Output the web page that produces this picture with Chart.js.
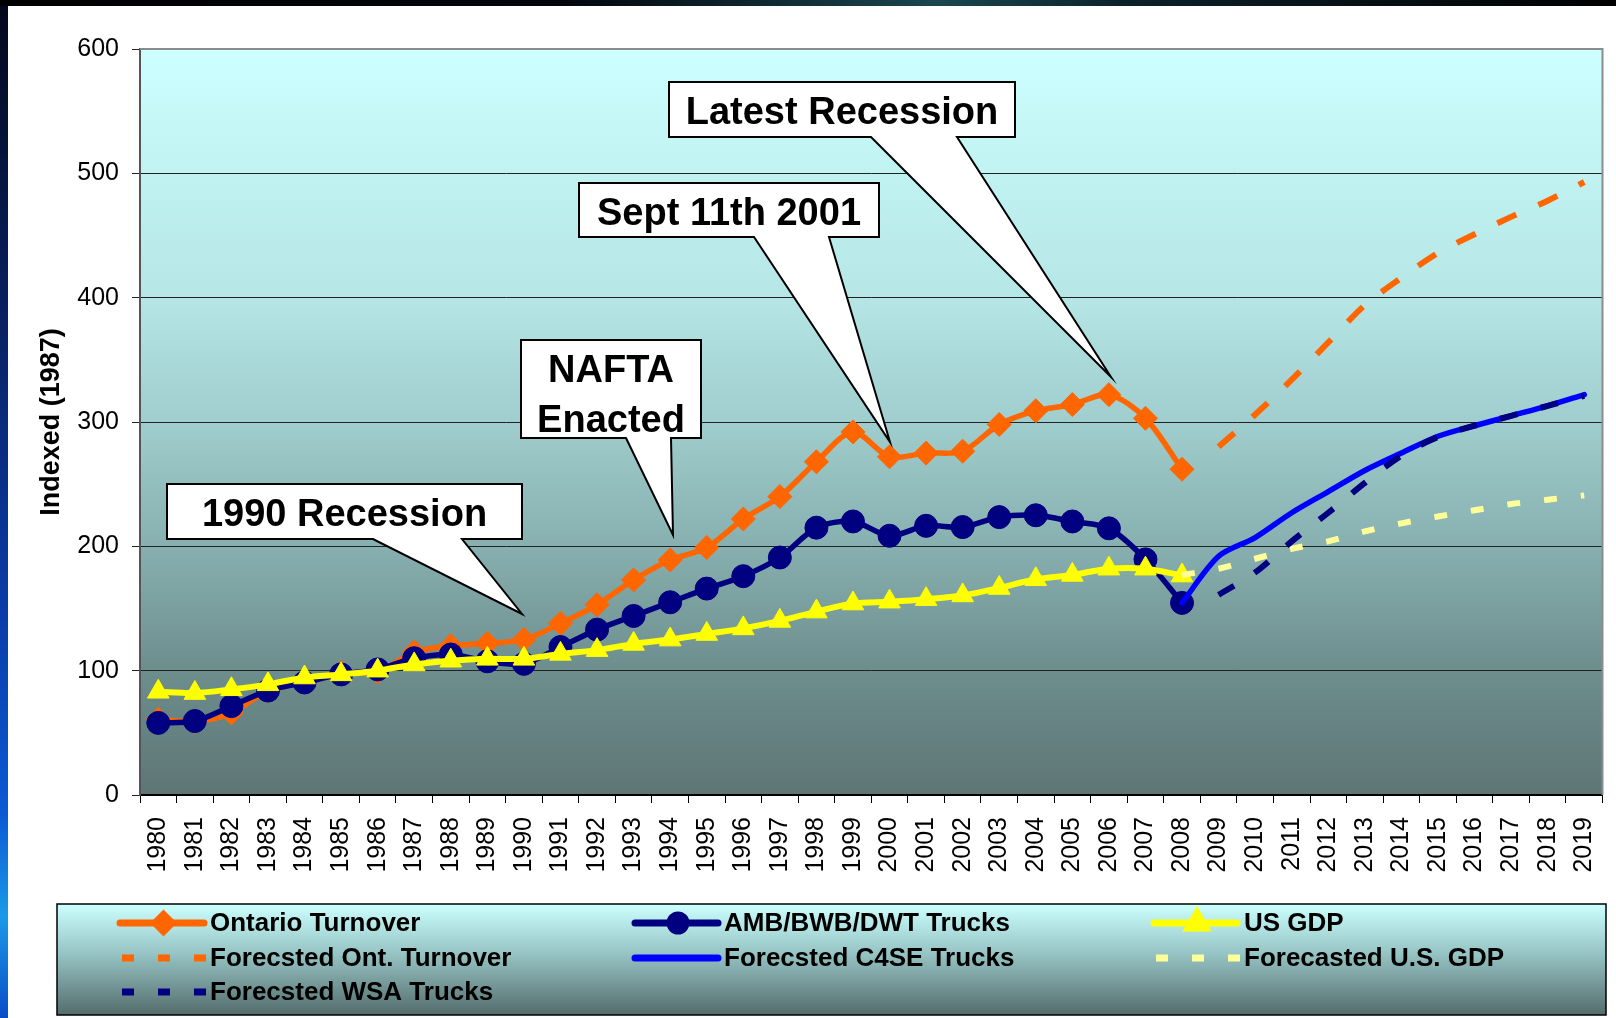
<!DOCTYPE html>
<html>
<head>
<meta charset="utf-8">
<script src="https://cdn.jsdelivr.net/npm/chart.js@4.4.1/dist/chart.umd.min.js"></script>
<style>
html,body{margin:0;padding:0;width:1616px;height:1018px;overflow:hidden;}
body{position:relative;background:#000;}
#leftbar{position:absolute;left:0;top:0;width:8px;height:1018px;background:linear-gradient(to bottom,#03071a 0%,#08205e 30%,#0a3ca8 60%,#0b5ad4 80%,#1a9ae8 90%,#0a4cc8 100%);}
#topbar{position:absolute;left:0;top:0;width:1616px;height:6px;background:linear-gradient(to right,#000 0%,#02060c 35%,#1b4650 58%,#0b2028 70%,#000 100%);}
#paper{position:absolute;left:8px;top:6px;width:1608px;height:1012px;background:#fff;}
#wrap{position:absolute;left:0;top:0;width:1616px;height:1018px;}
</style>
</head>
<body>
<div id="leftbar"></div><div id="topbar"></div><div id="paper"></div>
<div id="wrap"><canvas id="c" width="1616" height="1018"></canvas></div>
<script>
const years = ['1980','1981','1982','1983','1984','1985','1986','1987','1988','1989',
  '1990','1991','1992','1993','1994','1995','1996','1997','1998','1999',
  '2000','2001','2002','2003','2004','2005','2006','2007','2008','2009',
  '2010','2011','2012','2013','2014','2015','2016','2017','2018','2019'];

const ontarioTurnover = [61,59,66,84,92,98.5,99,115,120,122,
  125,138,153,173,189,199,222,240,268,292,
  272,275,276.5,298,309,314,322,303,262,null,
  null,null,null,null,null,null,null,null,null,null];

const ambTrucks = [58,59.5,71.5,84,90.5,97,101,110,113,107.5,
  105.5,119,133,144,155,166,176,191,215,220,
  208.5,216.5,215.5,223.5,225,220,214.5,189.5,154.5,null,
  null,null,null,null,null,null,null,null,null,null];

const usGdp = [83,82,85,89,94.5,97,100,105,108,109.5,
  109.5,113.5,116.5,121.5,125,129.5,134,140,147.5,154,
  155.5,157.5,160.5,166.5,173.5,177,182,182,176.5,null,
  null,null,null,null,null,null,null,null,null,null];

const fcOntTurnover = [null,null,null,null,null,null,null,null,null,null,
  null,null,null,null,null,null,null,null,null,null,
  null,null,null,null,null,null,null,null,null,280,
  306,334,364,394,416,436,451,465,478,493];

const fcC4seTrucks = [null,null,null,null,null,null,null,null,null,null,
  null,null,null,null,null,null,null,null,null,null,
  null,null,null,null,null,null,null,null,154.5,192,
  207,227,244,261,275,288.5,297,305,313,322];

const fcUsGdp = [null,null,null,null,null,null,null,null,null,null,
  null,null,null,null,null,null,null,null,null,null,
  null,null,null,null,null,null,null,null,177,182,
  190,198,204,212,218.5,224,229,234,237.5,241];

const fcWsaTrucks = [null,null,null,null,null,null,null,null,null,null,
  null,null,null,null,null,null,null,null,null,null,
  null,null,null,null,null,null,null,null,null,161,
  179,204,227,251,273,288,297,305,313,321];

const yTicks = [0,100,200,300,400,500,600];

const FONT = "'Liberation Sans', Arial, sans-serif";

const callouts = [
  {lines:['Latest Recession'], box:[669,82,1015,137], base:[871,957], tip:[1111,377]},
  {lines:['Sept 11th 2001'], box:[579,183,879,237], base:[754,829], tip:[890,442]},
  {lines:['NAFTA','Enacted'], box:[521,340,701,438], base:[626,671], tip:[673,535]},
  {lines:['1990 Recession'], box:[167,484,522,539], base:[373,462], tip:[522,614]}
];

const legendCols = [{x1:120,x2:207,tx:210},{x1:635,x2:721,tx:724},{x1:1154,x2:1240,tx:1244}];
const legendRows = [923,958,992];

const bgPlugin = {
  id:'plotBg',
  beforeDraw(chart){
    const {ctx, chartArea:a} = chart;
    const g = ctx.createLinearGradient(0,a.top,0,a.bottom);
    g.addColorStop(0,'rgb(204,255,255)');
    g.addColorStop(0.33,'rgb(182,230,230)');
    g.addColorStop(0.5,'rgb(160,205,205)');
    g.addColorStop(0.67,'rgb(135,175,175)');
    g.addColorStop(0.83,'rgb(110,142,142)');
    g.addColorStop(1,'rgb(94,117,117)');
    ctx.save();
    ctx.fillStyle = g;
    ctx.fillRect(a.left,a.top,a.right-a.left,a.bottom-a.top);
    ctx.restore();
  },
  afterDatasetsDraw(chart){
    const {ctx, chartArea:a} = chart;
    ctx.save();
    ctx.strokeStyle = '#8c8c8c';
    ctx.lineWidth = 2;
    ctx.beginPath();
    ctx.moveTo(a.left, a.top);
    ctx.lineTo(a.right, a.top);
    ctx.lineTo(a.right, a.bottom);
    ctx.stroke();
    ctx.restore();
  }
};

const calloutPlugin = {
  id:'callouts',
  afterDraw(chart){
    const ctx = chart.ctx;
    ctx.save();
    callouts.forEach(c => {
      const [l,t,r,b] = c.box;
      ctx.beginPath();
      ctx.moveTo(l,t);
      ctx.lineTo(r,t);
      ctx.lineTo(r,b);
      ctx.lineTo(c.base[1],b);
      ctx.lineTo(c.tip[0],c.tip[1]);
      ctx.lineTo(c.base[0],b);
      ctx.lineTo(l,b);
      ctx.closePath();
      ctx.fillStyle = '#fff';
      ctx.fill();
      ctx.lineWidth = 2;
      ctx.lineJoin = 'miter';
      ctx.strokeStyle = '#000';
      ctx.stroke();
      ctx.fillStyle = '#000';
      ctx.font = 'bold 38px ' + FONT;
      ctx.textAlign = 'center';
      ctx.textBaseline = 'alphabetic';
      c.lines.forEach((s,i) => ctx.fillText(s,(l+r)/2, t + 42 + i*50));
    });
    ctx.restore();
  }
};

const legendPlugin = {
  id:'customLegend',
  afterDraw(chart){
    const ctx = chart.ctx;
    const bx=57, by=904, bw=1606-57, bh=1015-904;
    ctx.save();
    const g = ctx.createLinearGradient(0,by,0,by+bh);
    g.addColorStop(0,'rgb(204,255,255)');
    g.addColorStop(0.45,'rgb(150,195,195)');
    g.addColorStop(1,'rgb(84,108,108)');
    ctx.fillStyle = g;
    ctx.fillRect(bx,by,bw,bh);
    ctx.lineWidth = 1.5;
    ctx.strokeStyle = '#000';
    ctx.strokeRect(bx,by,bw,bh);
    chart.data.datasets.forEach(ds => {
      const col = legendCols[ds.legendPos[0]];
      const y = legendRows[ds.legendPos[1]];
      ctx.strokeStyle = ds.borderColor;
      ctx.fillStyle = ds.borderColor;
      if (ds.borderDash && ds.borderDash.length){
        ctx.lineWidth = 7;
        ctx.lineCap = 'butt';
        ctx.setLineDash([12,24]);
        ctx.beginPath();
        ctx.moveTo(col.x1+2,y);
        ctx.lineTo(col.x2,y);
        ctx.stroke();
        ctx.setLineDash([]);
      } else {
        ctx.lineWidth = 7;
        ctx.lineCap = 'round';
        ctx.beginPath();
        ctx.moveTo(col.x1,y);
        ctx.lineTo(col.x2-3,y);
        ctx.stroke();
        if (ds.pointRadius > 0){
          Chart.helpers.drawPoint(ctx,{pointStyle:ds.pointStyle,radius:ds.legendRadius,rotation:0,borderWidth:1},(col.x1+col.x2)/2,y);
        }
      }
      ctx.fillStyle = '#000';
      ctx.font = 'bold 26px ' + FONT;
      ctx.textAlign = 'left';
      ctx.textBaseline = 'middle';
      ctx.fillText(ds.label,col.tx,y+1);
    });
    ctx.restore();
  }
};

const TENSION = 0.3;

new Chart(document.getElementById('c'), {
  type:'line',
  data:{
    labels:years,
    datasets:[
      {label:'Ontario Turnover', data:ontarioTurnover, borderColor:'#ff6600', backgroundColor:'#ff6600',
       borderWidth:5.5, pointStyle:'rectRot', pointRadius:12, pointBorderWidth:1, legendRadius:8.5,
       tension:TENSION, order:7, legendPos:[0,0]},
      {label:'AMB/BWB/DWT Trucks', data:ambTrucks, borderColor:'#000080', backgroundColor:'#000080',
       borderWidth:5.5, pointStyle:'circle', pointRadius:11.5, pointBorderWidth:1, legendRadius:8,
       tension:TENSION, order:6, legendPos:[1,0]},
      {label:'US GDP', data:usGdp, borderColor:'#ffff00', backgroundColor:'#ffff00',
       borderWidth:6, pointStyle:'triangle', pointRadius:12.5, pointBorderWidth:1, legendRadius:10,
       tension:TENSION, order:5, legendPos:[2,0]},
      {label:'Forecsted Ont. Turnover', data:fcOntTurnover, borderColor:'#ff6600', backgroundColor:'#ff6600',
       borderWidth:6, borderDash:[21,24], pointRadius:0, tension:TENSION, order:4, legendPos:[0,1]},
      {label:'Forecsted C4SE Trucks', data:fcC4seTrucks, borderColor:'#0000ff', backgroundColor:'#0000ff',
       borderWidth:5.5, borderCapStyle:'round', pointRadius:0, tension:TENSION, order:3, legendPos:[1,1]},
      {label:'Forecasted U.S. GDP', data:fcUsGdp, borderColor:'#ffff99', backgroundColor:'#ffff99',
       borderWidth:6, borderDash:[13,24], pointRadius:0, tension:TENSION, order:2, legendPos:[2,1]},
      {label:'Forecsted WSA Trucks', data:fcWsaTrucks, borderColor:'#000080', backgroundColor:'#000080',
       borderWidth:6, borderDash:[18,24], pointRadius:0, tension:TENSION, order:1, legendPos:[0,2]}
    ]
  },
  options:{
    responsive:false,
    animation:false,
    events:[],
    layout:{padding:{left:20,right:10,top:49,bottom:114}},
    plugins:{legend:{display:false},tooltip:{enabled:false}},
    scales:{
      x:{
        type:'category',
        offset:true,
        grid:{offset:true,drawOnChartArea:false,drawTicks:true,tickLength:8,color:'#000',lineWidth:1},
        border:{display:true,color:'#000',width:2},
        ticks:{autoSkip:false,minRotation:90,maxRotation:90,padding:14,color:'#000',font:{family:FONT,size:25}},
        afterFit(s){ s.height = 109; s.paddingLeft = 0; s.paddingRight = 0; }
      },
      y:{
        min:yTicks[0], max:yTicks[yTicks.length-1],
        afterBuildTicks(s){ s.ticks = yTicks.map(v => ({value:v})); },
        ticks:{padding:13,color:'#000',font:{family:FONT,size:25}},
        grid:{color:'#222',lineWidth:1,tickLength:8},
        border:{display:true,color:'#555',width:2},
        title:{display:true,text:'Indexed (1987)',color:'#000',font:{family:FONT,size:27,weight:'bold'},padding:{top:15,bottom:0}},
        afterFit(s){ s.width = 120; }
      }
    }
  },
  plugins:[bgPlugin, calloutPlugin, legendPlugin]
});
</script>
</body>
</html>
